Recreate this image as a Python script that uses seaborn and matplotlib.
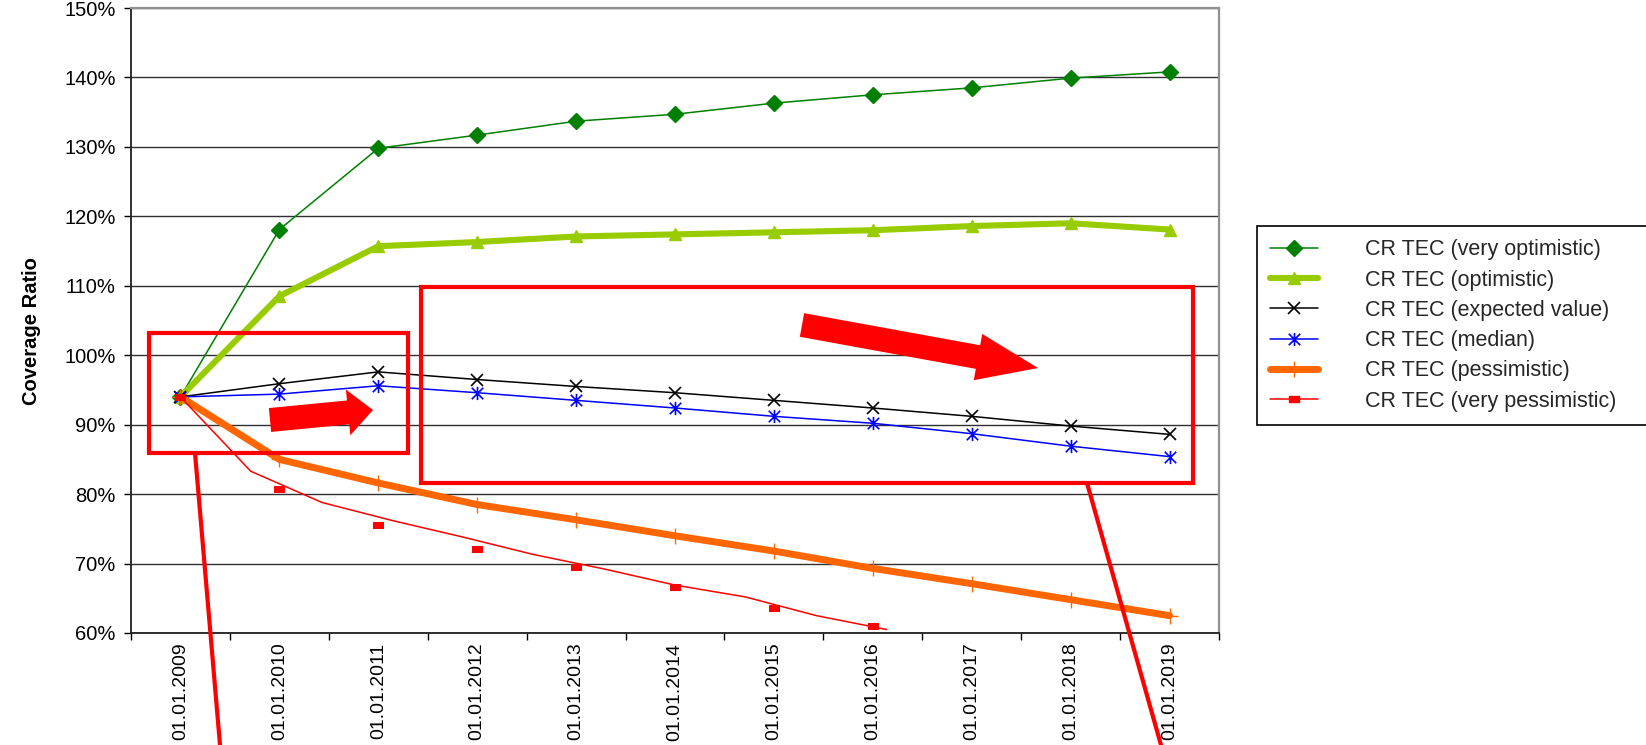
import numpy as np
import matplotlib
matplotlib.use("Agg")
import matplotlib.pyplot as plt
import matplotlib.transforms as mtransforms
from matplotlib import font_manager
from matplotlib.lines import Line2D
from matplotlib.patches import Rectangle, Polygon
from matplotlib.path import Path
from matplotlib.ticker import FixedLocator, FuncFormatter
import seaborn as sns

# ---- data (coverage ratio in %) ----
dates = ["01.01.2009", "01.01.2010", "01.01.2011", "01.01.2012", "01.01.2013",
         "01.01.2014", "01.01.2015", "01.01.2016", "01.01.2017", "01.01.2018",
         "01.01.2019"]
very_optimistic = [94.0, 118.1, 129.8, 131.7, 133.7, 134.7, 136.3, 137.5, 138.5, 139.9, 140.8]
optimistic = [94.0, 108.5, 115.7, 116.3, 117.1, 117.4, 117.7, 118.0, 118.6, 119.0, 118.1]
expected_value = [94.0, 95.9, 97.6, 96.5, 95.5, 94.6, 93.5, 92.4, 91.2, 89.8, 88.6]
median = [94.0, 94.4, 95.6, 94.6, 93.5, 92.4, 91.2, 90.2, 88.7, 86.9, 85.4]
pessimistic = [94.0, 85.0, 81.6, 78.5, 76.3, 74.0, 71.8, 69.3, 67.1, 64.8, 62.5]
very_pessimistic_points = [94.0, 80.8, 75.6, 72.1, 69.5, 66.6, 63.6, 61.0, np.nan, np.nan, np.nan]
very_pessimistic_line_x = [0.0, 0.71, 1.43, 2.14, 2.86, 3.57, 4.29, 5.0, 5.71, 6.43, 7.14]
very_pessimistic_line = [94.0, 83.3, 78.8, 76.2, 73.8, 71.3, 69.2, 66.9, 65.2, 62.5, 60.5]
labels = ["CR TEC (very optimistic)", "CR TEC (optimistic)", "CR TEC (expected value)",
          "CR TEC (median)", "CR TEC (pessimistic)", "CR TEC (very pessimistic)"]
y_ticks = [60, 70, 80, 90, 100, 110, 120, 130, 140, 150]

sns.set_theme(style="white")
plt.rcParams["font.family"] = ["Liberation Sans", "DejaVu Sans"]

# condensed face for the axis title when it is installed
installed = {f.name for f in font_manager.fontManager.ttflist}
if "Liberation Sans Narrow" in installed:
    title_font = dict(family=["Liberation Sans Narrow", "Liberation Sans"], fontsize=17.5)
else:
    title_font = dict(family=["Liberation Sans", "DejaVu Sans"], fontsize=14.5)

W, H, DPI = 1646, 745, 100
fig = plt.figure(figsize=(W / DPI, H / DPI), dpi=DPI)
fig.patch.set_facecolor("white")
ax = fig.add_axes([131 / W, 1 - 633 / H, (1219 - 131) / W, (633 - 8) / H])
ax.set_facecolor("white")

x = np.arange(len(dates))

# custom marker shapes
asterisk = Path([(-1, -1), (1, 1), (-1, 1), (1, -1), (0, -1.15), (0, 1.15)],
                [Path.MOVETO, Path.LINETO, Path.MOVETO, Path.LINETO, Path.MOVETO, Path.LINETO])
bar_marker = Path([(-1, -0.5), (1, -0.5), (1, 0.5), (-1, 0.5), (-1, -0.5)],
                  [Path.MOVETO, Path.LINETO, Path.LINETO, Path.LINETO, Path.CLOSEPOLY])

styles = [
    dict(color="#008000", lw=1.1, marker="D", ms=8, mec="#008000", mfc="#008000", mew=1),
    dict(color="#99CC00", lw=4.4, marker="^", ms=9, mec="#99CC00", mfc="#99CC00", mew=1),
    dict(color="black", lw=1.1, marker="x", ms=9, mec="black", mew=1.2),
    dict(color="#0000FF", lw=1.1, marker=asterisk, ms=9.5, mec="#0000FF", mew=1.2),
    dict(color="#FF6600", lw=5.0, marker="+", ms=11, mec="#FF6600", mew=1.0),
]
series = [very_optimistic, optimistic, expected_value, median, pessimistic]

for vals, st in zip(series, styles):
    sns.lineplot(x=x, y=vals, ax=ax, legend=False, zorder=3, **st)

# very pessimistic: thin line plus separate rectangular markers
sns.lineplot(x=very_pessimistic_line_x, y=very_pessimistic_line, ax=ax, legend=False,
             color="#FF0000", lw=1.1, zorder=3)
sns.lineplot(x=x, y=very_pessimistic_points, ax=ax, legend=False, color="#FF0000",
             linestyle="", marker=bar_marker, ms=7.5, mec="#FF0000", mfc="#FF0000", zorder=4)

# axes
ax.set_xlim(-0.5, len(dates) - 0.5)
ax.set_ylim(60, 150)
ax.yaxis.set_major_locator(FixedLocator(y_ticks))
ax.yaxis.set_major_formatter(FuncFormatter(lambda v, p: f"{v:.0f}%"))
ax.set_xticks(x)
ax.set_xticklabels(dates, rotation=90, va="top", ha="center")
ax.xaxis.set_minor_locator(FixedLocator(np.arange(-0.5, len(dates), 1.0)))
ax.tick_params(axis="x", which="major", length=0, pad=7, labelsize=14, colors="black")
ax.tick_params(axis="x", which="minor", length=5, width=1.0, color="black", direction="out",
               bottom=True)
ax.tick_params(axis="y", which="major", length=5, width=1.0, color="black", direction="out",
               left=True, pad=6, labelsize=14.5, labelcolor="black")
ax.grid(axis="y", color="#303030", lw=1.0)
ax.grid(axis="x", visible=False)
for side in ["left", "bottom"]:
    ax.spines[side].set_color("#202020")
    ax.spines[side].set_linewidth(1.3)
for side in ["top", "right"]:
    ax.spines[side].set_color("#909090")
    ax.spines[side].set_linewidth(1.6)
ax.set_xlabel("")
ax.set_ylabel("Coverage Ratio", fontweight="bold", color="black", **title_font)
ax.yaxis.set_label_coords(-0.091, 0.483)
ax.yaxis.label.set_va("center")

# legend
handles = []
for st in styles:
    handles.append(Line2D([], [], **st))
handles.append(Line2D([], [], color="#FF0000", lw=1.1, marker=bar_marker, ms=7.5,
                      mec="#FF0000", mfc="#FF0000"))
leg = fig.legend(handles, labels, loc="upper left",
                 bbox_to_anchor=(1257 / W, 0, 0.3, 1 - 226 / H), mode="expand",
                 frameon=True, fancybox=False, shadow=False, edgecolor="black",
                 fontsize=15.5, handlelength=2.2, handletextpad=2.2, labelspacing=0.43,
                 borderpad=0.62, borderaxespad=0, framealpha=1)
leg.get_frame().set_linewidth(1.2)

# highlight boxes, arrows and callout lines (figure pixel coordinates, origin top-left)
pix = mtransforms.Affine2D().scale(1 / DPI, -1 / DPI).translate(0, H / DPI) + fig.dpi_scale_trans
red = "#FF0000"


def block_arrow(tail, tip, shaft_w, head_w, head_l):
    t = np.array(tail, float)
    p = np.array(tip, float)
    d = (p - t) / np.linalg.norm(p - t)
    n = np.array([-d[1], d[0]])
    b = p - d * head_l
    pts = [t + n * shaft_w / 2, b + n * shaft_w / 2, b + n * head_w / 2, p,
           b - n * head_w / 2, b - n * shaft_w / 2, t - n * shaft_w / 2]
    return Polygon(pts, closed=True, fc=red, ec="none", transform=pix, clip_on=False)


fig.add_artist(Rectangle((149, 333), 259, 120, fill=False, ec=red, lw=3.0,
                         transform=pix, clip_on=False))
fig.add_artist(Rectangle((421, 287), 772, 196, fill=False, ec=red, lw=3.0,
                         transform=pix, clip_on=False))
fig.add_artist(Line2D([195, 220], [453, 745], color=red, lw=3.0, transform=pix))
fig.add_artist(Line2D([1087, 1161], [483, 745], color=red, lw=3.0, transform=pix))
fig.add_artist(block_arrow((270, 420), (373, 410), 24, 46, 25))
fig.add_artist(block_arrow((802, 325), (1038, 368), 24, 47, 61))

fig.savefig("out.png", dpi=DPI, facecolor="white")
